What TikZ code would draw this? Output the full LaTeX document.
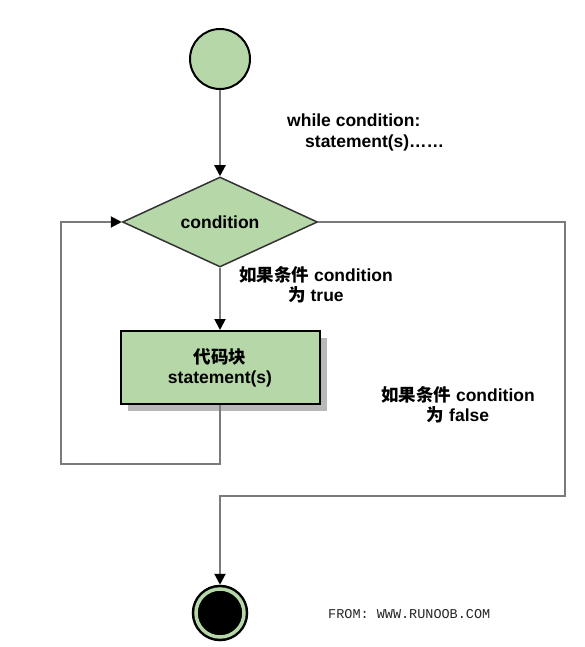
\documentclass[tikz,border=0pt]{standalone}
\usepackage{fontspec}
\setmainfont{Liberation Sans}
\newfontfamily\cjk{Noto Sans CJK SC}
\newfontfamily\monofnt{Liberation Mono}
\usetikzlibrary{shapes.geometric,arrows.meta,shadows}
\definecolor{flowgreen}{HTML}{B6D7A8}
\definecolor{linegray}{HTML}{7A7A7A}

\begin{document}
\begin{tikzpicture}[x=1pt,y=-1pt,>={Triangle[length=11pt,width=11pt,black]},font=\fontsize{17.5}{20}\selectfont\bfseries]
\tikzstyle{link}=[draw=linegray,line width=2pt]
\tikzstyle{startstop}=[circle,draw=black,line width=2pt,fill=flowgreen,minimum size=60pt,inner sep=0pt]
\tikzstyle{finish}=[circle,draw=black,double=flowgreen,double distance=3.5pt,line width=2.5pt,fill=black,minimum size=48pt,inner sep=0pt,outer sep=4.25pt]
\tikzstyle{decision}=[diamond,draw=black!80,line width=1.5pt,fill=flowgreen,aspect=2.2,minimum width=195pt,minimum height=90pt,inner sep=0pt]
\tikzstyle{process}=[rectangle,draw=black,line width=2pt,fill=flowgreen,minimum width=199pt,minimum height=73pt,align=center,drop shadow={shadow xshift=7pt,shadow yshift=-7pt,fill=black!28,opacity=1}]
\tikzstyle{note}=[align=center,inner sep=0pt]
\useasboundingbox (0,0) rectangle (585,647);

\node[startstop] (start) at (220,59) {};
\node[note,align=left,anchor=west] (code) at (287,132.5) {while condition:\\[1pt]\hspace{18pt}statement(s)……};
\node[decision] (cond) at (220,222) {condition};
\node[note] (truelbl) at (316,285) {{\cjk 如果条件} condition\\{\cjk 为} true};
\node[process] (body) at (220,367.5) {{\cjk 代码块}\\statement(s)};
\node[note] (falselbl) at (458,405) {{\cjk 如果条件} condition\\{\cjk 为} false};
\node[finish] (stop) at (220,613) {};
\node[font=\monofnt\fontsize{13.5}{16}\selectfont,text=black!85,anchor=west,inner sep=0pt] (source) at (328,614) {FROM: WWW.RUNOOB.COM};

% connectors
\coordinate (backcorner) at (61,464);
\coordinate (exitcorner) at (565,496);
\draw[link,->] (start) -- (cond);
\draw[link,->] (cond) -- (body);
\draw[link,->] (body.south) |- (backcorner) |- (cond.west);
\draw[link,->] (cond.east) -| (exitcorner) -| (stop);
\end{tikzpicture}
\end{document}
